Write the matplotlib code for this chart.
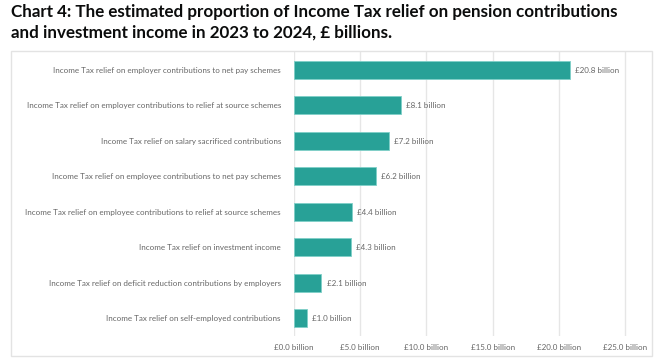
import matplotlib
matplotlib.use("Agg")
import matplotlib.pyplot as plt
from matplotlib.patches import Rectangle

categories = [
    "Income Tax relief on employer contributions to net pay schemes",
    "Income Tax relief on employer contributions to relief at source schemes",
    "Income Tax relief on salary sacrificed contributions",
    "Income Tax relief on employee contributions to net pay schemes",
    "Income Tax relief on employee contributions to relief at source schemes",
    "Income Tax relief on investment income",
    "Income Tax relief on deficit reduction contributions by employers",
    "Income Tax relief on self-employed contributions",
]
values = [20.8, 8.1, 7.2, 6.2, 4.4, 4.3, 2.1, 1.0]
xticks = [0, 5, 10, 15, 20, 25]
xtick_labels = ["£0.0 billion", "£5.0 billion", "£10.0 billion", "£15.0 billion", "£20.0 billion", "£25.0 billion"]
title = "Chart 4: The estimated proportion of Income Tax relief on pension contributions\nand investment income in 2023 to 2024, £ billions."

W, H = 657, 361
fig = plt.figure(figsize=(W / 100, H / 100), dpi=100)
fig.patch.set_facecolor("white")

# chart box
fig.patches.append(Rectangle((11 / W, 1 - 356 / H), (652 - 11) / W, (356 - 51) / H,
                             transform=fig.transFigure, fill=False, edgecolor="#e3e3e3", linewidth=1.0))

fig.text(11 / W, 1 - 4 / H, title, ha="left", va="top", fontsize=12.25, fontweight="bold",
         family="Lato", color="#0b0c0c", linespacing=1.32)

left = 293.5 / W
right = 652 / W
bottom = 1 - 336 / H
top = 1 - 52 / H
ax = fig.add_axes([left, bottom, right - left, top - bottom])

y = list(range(len(categories)))
bars = ax.barh(y, values, height=0.5, color="#28a197", edgecolor="#7fcfc8", linewidth=0.6, zorder=3)
ax.set_ylim(len(categories) - 0.5, -0.5)
ax.set_xlim(0, 27)

label_color = "#666666"
for yi, v in zip(y, values):
    ax.text(v + 0.4, yi + 0.02, f"£{v:.1f} billion", va="center", ha="left", fontsize=5.75,
            family="Lato", color=label_color)

ax.set_yticks(y)
ax.set_yticklabels(categories, fontsize=5.75, family="Lato", color=label_color)
ax.set_xticks(xticks)
ax.set_xticklabels(xtick_labels, fontsize=5.75, family="Lato", color=label_color)
ax.tick_params(axis="y", length=0, pad=9)
ax.tick_params(axis="x", length=0, pad=6)
ax.grid(axis="x", color="#e6e6e6", linewidth=1.0, zorder=0)
for s in ax.spines.values():
    s.set_visible(False)

fig.savefig("out.png", dpi=100)
